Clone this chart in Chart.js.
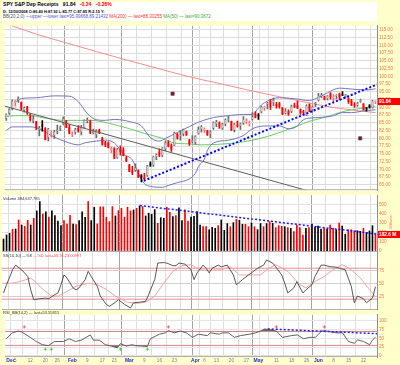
<!DOCTYPE html>
<html>
<head>
<meta charset="utf-8">
<title>SPY S&amp;P Dep Receipts</title>
<script src="https://cdn.jsdelivr.net/npm/chart.js@4.4.1/dist/chart.umd.min.js"></script>
<style>
html,body{margin:0;padding:0;}
body{width:400px;height:365px;overflow:hidden;background:#ffffcc;position:relative;font-family:"Liberation Sans",Arial,sans-serif;}
canvas{position:absolute;left:0;}
.lbl{position:absolute;white-space:nowrap;line-height:1;}
#titlebox{position:absolute;left:2px;top:2px;width:375px;height:19px;background:#fff;}
.box{position:absolute;left:378px;width:22px;height:7px;background:#ff0000;color:#fff;font-weight:bold;font-size:4.8px;line-height:7px;padding-left:1px;box-sizing:border-box;white-space:nowrap;}
</style>
</head>
<body>
<div id="titlebox"></div>
<canvas id="cPrice"></canvas>
<canvas id="cVol"></canvas>
<canvas id="cSto"></canvas>
<canvas id="cRsi"></canvas>
<div class="lbl" style="left:3px;top:2px;font-size:5.1px;font-weight:bold;">SPY S&amp;P Dep Receipts&nbsp;&nbsp;&nbsp;91.84&nbsp;&nbsp;&nbsp;<span style="color:#ff0000">-0.24</span>&nbsp;&nbsp;&nbsp;<span style="color:#ff0000">-0.26%</span></div>
<div class="lbl" style="left:3px;top:9.5px;font-size:3.9px;font-weight:bold;">D: 12/30/2008 O:86.40 H:87.92 L:85.77 C:87.85 R:2.15 Y:</div>
<div class="lbl" style="left:3px;top:15px;font-size:4.5px;"><span style="color:#555">BB(20,2.0)</span> <span style="color:#5555c8">—upper —lower last=95.99668,89.21432</span> <span style="color:#ff3030">MA(200) — last=88.30255</span> <span style="color:#33b033">MA(50) — last=90.3672</span></div>
<div class="lbl" style="left:3px;top:196.5px;font-size:4px;color:#333">Volume 484,637,785</div>
<div class="lbl" style="left:3px;top:253.5px;font-size:4px;color:#333">SS(10,10) —%K <span style="color:#ff4040">—%D last=43.76,23.00997</span></div>
<div class="lbl" style="left:3px;top:311px;font-size:4px;color:#333">RSI_BB(14,2) — last=53.55815</div>
<div class="lbl" style="left:383px;top:220px;width:16px;text-align:center;font-size:4px;color:#f07850;transform:rotate(-90deg);">Millions</div>
<div class="box" id="pbox">91.84</div>
<div class="box" id="vbox">182.6 M</div>
<script>
// ---------------- data ----------------
const opens=[86.40,88.10,89.60,91.60,92.30,91.50,89.00,90.10,87.60,85.60,
85.30,82.70,84.30,83.20,80.30,81.60,80.80,82.30,83.10,84.60,
85.60,83.40,81.20,81.80,83.20,82.00,83.40,85.60,85.40,81.70,
81.20,82.60,80.00,78.50,78.60,76.10,76.70,73.70,76.30,76.20,
73.80,71.40,69.50,69.60,69.40,67.60,67.40,67.90,71.70,71.30,
74.00,75.60,74.40,76.50,78.60,77.60,77.80,81.30,80.70,81.30,
82.20,79.40,78.90,78.70,81.60,82.90,82.70,82.40,81.30,83.20,
84.60,84.90,83.30,84.50,85.90,85.50,82.60,84.00,84.00,84.90,
85.20,84.60,86.10,88.00,87.40,88.50,89.80,90.90,92.00,91.50,
91.00,91.10,89.80,88.00,88.60,88.70,90.60,90.60,89.20,88.40,
87.40,90.80,89.20,90.90,92.20,93.60,93.40,92.80,94.40,93.00,
93.70,94.20,94.10,93.60,93.00,92.00,90.90,90.60,91.90,91.10,
89.60,90.50,89.80,91.70];
const highs=[87.92,89.60,92.40,92.30,93.40,91.80,90.20,90.30,87.90,87.30,
85.50,83.90,85.70,83.50,83.20,82.40,82.60,84.30,84.00,86.90,
85.80,84.40,82.10,83.20,84.10,84.20,86.00,86.60,85.90,83.00,
82.80,83.00,80.30,79.00,78.90,77.20,77.00,76.80,77.60,77.00,
74.20,71.60,71.00,71.80,69.80,68.30,68.70,71.30,72.40,74.30,
75.00,76.60,77.00,79.20,79.30,78.20,82.00,81.60,82.50,83.00,
82.30,79.70,80.90,80.90,83.70,84.10,83.40,82.60,82.50,85.30,
85.80,85.30,84.80,86.30,87.20,85.60,84.80,85.60,84.90,87.00,
86.30,85.50,88.30,88.60,88.00,90.40,90.40,91.60,92.60,93.00,
91.60,91.60,89.90,89.60,89.20,90.70,91.40,92.00,89.50,89.00,
90.80,91.10,90.50,91.60,94.50,94.50,93.60,93.80,94.80,94.10,
94.10,94.60,95.10,94.20,93.10,92.60,91.50,91.60,92.70,91.20,
89.90,90.90,92.30,92.10];
const lows=[85.77,87.70,89.20,90.40,91.60,89.20,88.40,87.70,85.50,85.00,
82.80,80.80,82.30,79.50,79.20,80.40,80.00,81.40,82.50,84.30,
83.40,81.40,80.50,81.30,82.00,81.10,83.10,85.00,81.50,81.40,
80.20,81.50,77.80,77.30,76.90,75.40,73.40,73.50,74.60,74.30,
72.50,69.20,68.30,69.30,67.30,65.90,66.70,67.70,70.90,70.90,
73.10,74.10,74.10,76.00,77.20,75.80,77.60,79.70,79.40,80.80,
80.90,77.70,78.60,78.10,81.30,82.00,81.90,80.90,80.20,82.90,
83.80,83.20,82.90,84.00,85.30,82.50,82.10,83.60,82.90,84.50,
84.80,83.90,85.90,86.60,86.10,88.20,89.00,89.50,89.30,90.50,
89.70,89.70,87.60,87.80,87.40,88.30,89.90,89.60,87.70,87.70,
87.30,88.60,88.50,90.20,92.00,93.10,92.40,92.40,92.60,91.90,
92.70,92.40,93.80,93.00,91.30,90.50,90.00,90.30,91.60,89.20,
88.80,89.70,89.70,91.20];
const closes=[87.85,89.30,92.12,91.69,92.40,89.63,89.94,88.02,86.03,86.19,
83.30,83.41,84.04,79.60,83.07,81.81,82.25,82.70,83.61,86.41,
83.55,81.65,81.60,82.90,82.27,83.62,85.87,86.00,81.77,82.42,
82.57,81.74,78.02,77.94,77.01,76.13,73.49,76.43,75.62,74.43,
72.67,69.28,68.84,70.47,67.48,67.56,66.88,71.14,71.31,74.22,
74.79,74.53,76.93,78.53,77.51,76.42,81.82,80.15,80.92,82.81,
81.13,78.30,79.33,80.65,82.96,83.77,83.07,81.09,82.05,85.17,
85.38,83.67,84.72,86.04,86.46,82.77,84.52,83.87,84.71,86.13,
85.26,85.03,86.87,86.78,87.25,90.21,89.87,91.43,90.22,92.39,
90.41,90.32,87.89,88.80,87.79,90.45,90.30,89.83,88.33,88.19,
90.51,88.80,90.17,91.39,93.75,93.94,92.65,93.71,93.47,93.38,
93.71,93.38,93.95,94.08,91.85,90.68,90.55,91.31,92.12,89.30,
89.51,90.09,92.08,91.84];
const volumes=[129,172,190,233,236,333,279,265,329,279,
351,430,530,397,419,365,430,379,322,272,
326,290,383,290,283,326,419,362,530,326,
469,290,473,473,362,315,476,376,433,458,
362,469,430,440,458,483,476,376,405,394,
444,297,358,351,469,415,369,379,462,326,
440,322,365,372,422,279,261,261,226,254,
243,272,333,222,294,261,304,340,329,286,
286,261,301,261,229,294,261,294,315,297,
251,272,265,261,251,243,208,279,251,172,
243,251,290,254,268,236,243,236,279,243,
229,301,268,179,229,229,218,218,211,243,
200,215,272,182.6];

// bar index of each x-axis label and its text
const tickIdx=[0,3,8,13,17,22,27,32,36,41,46,51,56,61,63,66,70,75,80,84,85,90,95,100,104,109,114,119];
const tickLabels=["Dec","5","12","20","26","Feb","9","17","23","Mar","9","16","23","","Apr","6","13","20","27","May","","11","18","26","Jun","8","15","22"];
const monthIdx=[0,22,41,63,84,104];
const priceTicks=[65,67.5,70,72.5,75,77.5,80,82.5,85,87.5,90,92.5,95,97.5,100,102.5,105,107.5,110,112.5,115];
const volTicks=[0,100,200,300,400,500];
const stoTicks=[25,50,75];
const rsiTicks=[0,25,50,75,100];

// overlays: [bar index, value]
const bbUpper=[[3,91.7],[5,92.8],[10,93.1],[16,93.7],[21,93.6],[24,91.8],[27,88.0],[30,86.0],[33,85.8],[36,86.1],[41,85.4],[45,84.0],[48,80.2],[51,79.1],[53,80.0],[55,80.9],[58,82.4],[61,83.8],[64,85.2],[69,86.7],[74,87.3],[79,87.7],[82,87.7],[84,89.8],[86,91.5],[91,93.1],[96,92.8],[101,92.2],[104,93.2],[107,94.7],[111,96.2],[115,95.9],[120,95.6],[123,96.0]];
const bbLower=[[0,82.6],[2,83.7],[8,83.7],[11,83.1],[15,80.9],[21,78.5],[24,77.9],[26,78.5],[30,79.1],[33,79.4],[36,78.5],[39,75.0],[42,73.0],[44,68.7],[46,65.4],[48,64.5],[52,64.2],[54,64.8],[57,65.7],[61,66.9],[63,68.7],[64,70.9],[66,73.3],[67,76.1],[69,78.5],[74,79.4],[79,80.9],[82,83.1],[87,84.0],[91,84.0],[94,83.1],[97,84.0],[98,85.2],[100,86.4],[104,86.7],[109,87.3],[112,88.3],[115,88.3],[120,89.0],[123,89.2]];
const ma50=[[0,87.0],[3,87.3],[8,87.3],[12,86.7],[19,85.8],[28,85.8],[34,84.9],[41,83.1],[46,81.6],[52,80.0],[56,78.5],[61,78.2],[65,77.9],[76,78.5],[82,79.4],[87,80.6],[92,82.2],[97,84.0],[101,85.5],[107,87.0],[111,88.3],[115,89.2],[123,90.4]];
const ma200=[[0,117.0],[10,113.6],[20,110.8],[30,108.0],[40,105.3],[50,102.7],[60,100.1],[70,97.9],[80,95.7],[90,93.6],[100,91.6],[110,89.8],[123,88.3]];
const priceTrendDown=[[-0.5,90.4],[100,63.2]];
const priceTrendUp=[[45.8,66.3],[123.5,97.4]];
const priceMarkers=[[55.4,94.4],[117.9,80.0]];
const volTrend=[[45.1,487],[123.5,183]];
const stochK=[[0,32],[1,48],[3,77],[4,86],[6,77],[8,64],[9,38],[10,19],[12,21],[14,22],[15,21],[17,29],[18,32],[19,48],[20,67],[21,61],[23,42],[24,38],[25,42],[27,58],[28,74],[29,64],[31,45],[32,26],[34,10],[35,6],[37,14],[38,19],[40,10],[42,3],[43,13],[45,14],[47,16],[48,29],[50,58],[51,90],[53,91],[54,90],[56,85],[57,85],[58,90],[60,88],[62,77],[63,58],[64,71],[66,86],[67,80],[68,71],[69,80],[71,86],[72,83],[74,86],[76,67],[77,48],[79,58],[81,67],[82,71],[84,80],[86,86],[87,96],[89,90],[90,83],[92,67],[93,51],[94,32],[96,42],[97,54],[99,32],[100,38],[102,48],[103,64],[105,86],[106,86],[108,83],[110,82],[111,80],[113,77],[115,45],[116,13],[117,26],[119,21],[120,13],[122,22],[123,44]];
const stochD=[[0,51],[3,51],[6,55],[9,61],[11,51],[13,39],[16,26],[18,26],[21,35],[24,45],[28,51],[31,48],[34,39],[37,26],[41,14],[44,12],[47,14],[50,26],[53,51],[56,74],[59,85],[62,87],[65,77],[68,76],[72,77],[75,83],[78,67],[82,67],[85,67],[87,77],[90,87],[94,74],[96,61],[98,48],[100,42],[102,51],[106,64],[109,77],[112,87],[115,77],[118,61],[121,39],[123,25]];
const stochLevels=[20,80];
const rsi=[[0,49],[2,66],[4,71],[5,69],[8,53],[10,41],[12,32],[14,29],[16,41],[19,41],[21,49],[23,41],[25,45],[28,60],[29,45],[31,45],[33,32],[35,28],[37,23],[38,35],[40,28],[42,32],[43,29],[45,28],[47,27],[48,49],[51,62],[53,66],[54,72],[56,66],[58,71],[60,66],[62,53],[64,62],[67,58],[68,66],[71,62],[72,66],[74,66],[76,53],[78,58],[81,62],[83,66],[85,72],[86,77],[88,75],[90,71],[92,53],[95,58],[97,60],[99,49],[101,53],[103,53],[105,71],[106,72],[108,69],[110,66],[112,66],[114,41],[116,36],[117,46],[119,41],[121,32],[122,45],[123,53.6]];
const rsiLevels=[30,70];
const rsiTrend=[[87.1,77.3],[123.5,63.7]];
const rsiSellMarks=[[6,83],[54,83],[90,83],[106,83]];
const rsiBuyMarks=[[13,19],[15,19],[38,19],[47,19]];

// ---------------- drawing ----------------
const n=closes.length;
const X0=-0.5, X1=123.5;
const pts=a=>a.map(p=>({x:p[0],y:p[1]}));
const hline=v=>[{x:X0,y:v},{x:X1,y:v}];
const upDay=closes.map((c,i)=>i===0?c>=opens[0]:c>=closes[i-1]);
const baseCol=upDay.map(u=>u?'#000000':'#ff0000');
const hollow=closes.map((c,i)=>c>=opens[i]);
const edgeCol=baseCol.map((c,i)=>hollow[i]?(c==='#000000'?'#6a6a6a':'#ff6a6a'):c);
const fillCol=baseCol.map((c,i)=>hollow[i]?'#ffffff':c);

const bgPlugin={id:'bg',
  beforeDraw(c){const a=c.chartArea,x=c.ctx;x.save();x.fillStyle='#ffffff';x.fillRect(a.left,a.top,a.right-a.left,a.bottom-a.top);x.restore();},
  afterDraw(c){const a=c.chartArea,x=c.ctx;x.save();x.strokeStyle='#b0b0b0';x.lineWidth=1;x.beginPath();x.moveTo(a.left,a.bottom-0.5);x.lineTo(a.right,a.bottom-0.5);x.stroke();x.restore();}
};

function gridCol(c){
  const v=c.tick?c.tick.value:null;
  if(v===0||v===X1) return 'rgba(0,0,0,0)';
  return monthIdx.includes(v)?'#a4a4a4':'#dedede';
}
function xScale(show){
  return {type:'linear',min:X0,max:X1,offset:false,
    afterBuildTicks(s){s.ticks=tickIdx.map(v=>({value:v})).concat(show?[{value:X1}]:[]);},
    afterFit(s){s.height=show?8:0;s.paddingLeft=0;s.paddingRight=0;},
    grid:{drawTicks:false,color:gridCol,lineWidth:1},
    border:{display:false},
    ticks:{display:show,autoSkip:false,maxRotation:0,minRotation:0,align:'inner',padding:1,
      font:c=>({size:(c.tick&&monthIdx.includes(c.tick.value))?5:4.6,weight:(c.tick&&monthIdx.includes(c.tick.value))?'bold':'normal'}),
      color:c=>(c.tick&&monthIdx.includes(c.tick.value))?'#2a2ad0':'#7a7a9a',
      callback:v=>{const k=tickIdx.indexOf(v);return k<0?'':tickLabels[k];}}
  };
}
function yScale(min,max,tks,fmt,gcol){
  return {position:'right',min,max,
    afterBuildTicks(s){s.ticks=tks.map(v=>({value:v}));},
    afterFit(s){s.width=23;s.paddingTop=0;s.paddingBottom=0;},
    grid:{drawTicks:false,color:gcol},
    border:{display:true,color:'#909090'},
    ticks:{autoSkip:false,padding:2,font:{size:4.6},color:'#f07850',callback:fmt}
  };
}
function mk(id,top,h,datasets,y,showX){
  const cv=document.getElementById(id);
  cv.width=400;cv.height=h;cv.style.top=top+'px';cv.style.width='400px';cv.style.height=h+'px';
  return new Chart(cv,{type:'bar',data:{datasets},
    options:{responsive:false,animation:false,devicePixelRatio:1,events:[],
      layout:{padding:{left:2,right:0,top:0,bottom:0}},
      scales:{x:xScale(showX),y},
      plugins:{legend:{display:false},tooltip:{enabled:false}}},
    plugins:[bgPlugin]});
}
Chart.defaults.font.family="'Liberation Sans', Arial, sans-serif";
const lineBase={type:'line',pointRadius:0,borderWidth:1,fill:false};

// price panel
const priceChart=mk('cPrice',21,174,[
  Object.assign({},lineBase,{data:pts(priceTrendUp),borderColor:'#0000ff',borderWidth:2,borderDash:[2,2],order:0}),
  Object.assign({},lineBase,{data:pts(priceTrendDown),borderColor:'#5e5e5e',order:1}),
  {type:'scatter',data:pts(priceMarkers),pointStyle:'rect',pointRadius:2.3,backgroundColor:'#8b0a0a',borderColor:'#5a5a5a',borderWidth:0.8,order:1},
  {type:'bar',data:closes.map((c,i)=>({x:i,y:[opens[i],c]})),grouped:false,barThickness:1,maxBarThickness:2.6,minBarLength:1,
    backgroundColor:fillCol,borderColor:edgeCol,borderWidth:hollow.map(h=>h?0.8:0),borderSkipped:false,order:2},
  {type:'bar',data:closes.map((c,i)=>({x:i,y:[lows[i],highs[i]]})),grouped:false,barThickness:1,maxBarThickness:1,
    backgroundColor:edgeCol,borderWidth:0,order:3},
  Object.assign({},lineBase,{data:pts(bbUpper),borderColor:'#7474c4',cubicInterpolationMode:'monotone',order:4}),
  Object.assign({},lineBase,{data:pts(bbLower),borderColor:'#7474c4',cubicInterpolationMode:'monotone',order:4}),
  Object.assign({},lineBase,{data:pts(ma50),borderColor:'#66cc66',cubicInterpolationMode:'monotone',order:5}),
  Object.assign({},lineBase,{data:pts(ma200),borderColor:'#f28c8c',cubicInterpolationMode:'monotone',order:6})
],yScale(63.26,116.31,priceTicks,v=>v.toFixed(2),'#dcdcdc'),false);

// volume panel
const volChart=mk('cVol',195,57,[
  Object.assign({},lineBase,{data:pts(volTrend),borderColor:'#1a1aff',borderWidth:1.5,borderDash:[2,2],order:0}),
  {type:'bar',data:volumes.map((v,i)=>({x:i,y:v})),grouped:false,barThickness:1,maxBarThickness:2,backgroundColor:baseCol,borderWidth:0,order:1}
],yScale(-10,600,volTicks,v=>String(v),'#e2e2e2'),false);

// stochastic panel
const stoChart=mk('cSto',252,58,[
  Object.assign({},lineBase,{data:pts(stochK),borderColor:'#444444',borderWidth:0.9,order:0}),
  Object.assign({},lineBase,{data:pts(stochD),borderColor:'#f4a2a2',order:1}),
  Object.assign({},lineBase,{data:hline(stochLevels[0]),borderColor:'#f08a8a',order:2}),
  Object.assign({},lineBase,{data:hline(stochLevels[1]),borderColor:'#f08a8a',order:2})
],yScale(-1,111.5,stoTicks,v=>String(v),'#cfcfcf'),false);

// RSI panel
const rsiChart=mk('cRsi',310,55,[
  Object.assign({},lineBase,{data:pts(rsiTrend),borderColor:'#1a1aff',borderWidth:1.5,borderDash:[2,2],order:0}),
  {type:'scatter',data:pts(rsiSellMarks),pointStyle:'cross',pointRadius:1.6,borderColor:'#ff4040',borderWidth:0.8,order:0},
  {type:'scatter',data:pts(rsiBuyMarks),pointStyle:'cross',pointRadius:1.6,borderColor:'#30c030',borderWidth:0.8,order:0},
  Object.assign({},lineBase,{data:pts(rsi),borderColor:'#505050',borderWidth:0.9,fill:{target:{value:rsiLevels[0]},above:'rgba(0,0,0,0)',below:'#6e6e6e'},order:1}),
  Object.assign({},lineBase,{data:pts(rsi),borderWidth:0,borderColor:'rgba(0,0,0,0)',fill:{target:{value:rsiLevels[1]},above:'#6e6e6e',below:'rgba(0,0,0,0)'},order:2}),
  Object.assign({},lineBase,{data:hline(rsiLevels[0]),borderColor:'#f08a8a',order:3}),
  Object.assign({},lineBase,{data:hline(rsiLevels[1]),borderColor:'#f08a8a',order:3})
],yScale(-3.4,117.8,rsiTicks,v=>String(v),'#e4e4e4'),true);

// last-value boxes on the right axis
document.getElementById('pbox').style.top=(21+priceChart.scales.y.getPixelForValue(closes[n-1])-3.5)+'px';
document.getElementById('vbox').style.top=(195+volChart.scales.y.getPixelForValue(volumes[n-1])-3.5)+'px';
</script>
</body>
</html>
